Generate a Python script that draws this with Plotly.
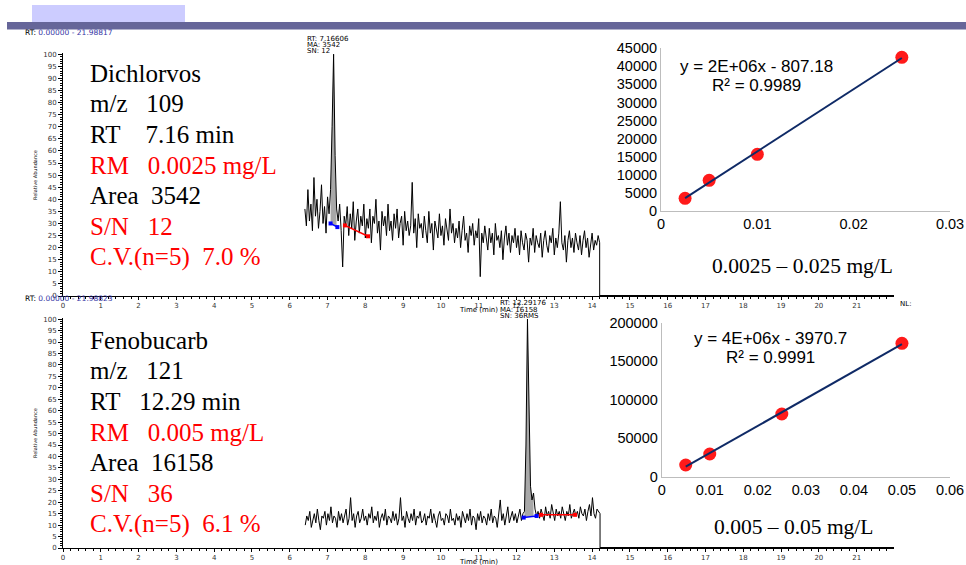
import numpy as np
import plotly.graph_objects as go

W, H = 966, 565

# ---------------- chromatogram data (relative abundance, %) ----------------
SCAN_STEP = 0.04  # min between scans

DICHLORVOS_RUN_END = 21.98817
DICHLORVOS_START = 6.40
DICHLORVOS_SIGNAL = [
    36, 29, 44, 31, 38, 27, 49, 33, 40, 28, 35, 46, 30, 37, 26, 41, 34, 44, 70, 100,
    58, 36, 31, 38, 27, 12, 33, 29, 37, 25, 34, 28, 39, 23, 31, 36, 26, 33, 29, 38,
    24, 32, 28, 36, 22, 33, 30, 40, 26, 31, 19, 35, 29, 33, 25, 38, 27, 31, 23, 34,
    28, 36, 24, 30, 33, 21, 35, 27, 31, 25, 29, 47, 26, 32, 20, 34, 28, 30, 24, 33,
    27, 22, 35, 26, 30, 19, 31, 28, 24, 34, 25, 29, 21, 32, 27, 23, 36, 26, 30, 22,
    28, 24, 31, 20, 27, 33, 23, 26, 18, 29, 25, 30, 21, 27, 24, 32, 8, 26, 22, 29,
    24, 19, 28, 22, 26, 17, 30, 23, 25, 20, 27, 15, 24, 29, 21, 26, 18, 25, 22, 28,
    20, 25, 17, 27, 22, 19, 26, 23, 14, 24, 21, 28, 18, 25, 22, 20, 26, 16, 23, 27,
    21, 18, 25, 22, 28, 17, 24, 20, 26, 39, 22, 19, 25, 14, 23, 27, 20, 24, 18, 26,
    22, 19, 25, 17, 23, 27, 20, 24, 16, 22, 26, 19, 23, 21, 25, 22,
]
DICHLORVOS_PEAK_WINDOW = (7.08, 7.24)
DICHLORVOS_BASE_T = [7.08, 7.26]
DICHLORVOS_BASE_Y = [30.0, 28.5]
DICHLORVOS_NOISE_T = [7.46, 8.07]
DICHLORVOS_NOISE_Y = [29.2, 24.7]

FENOBUCARB_RUN_END = 21.98823
FENOBUCARB_START = 6.41
FENOBUCARB_SIGNAL = [
    10, 14, 12, 16, 9, 13, 15, 11, 17, 12, 8, 14, 13, 16, 10, 15, 12, 18, 11, 14,
    13, 9, 16, 12, 15, 11, 14, 17, 10, 13, 22, 12, 15, 9, 14, 16, 11, 13, 17, 12,
    14, 10, 15, 13, 18, 11, 14, 12, 16, 9, 13, 15, 12, 17, 10, 14, 13, 11, 16, 12,
    15, 10, 13, 22, 12, 14, 9, 16, 13, 11, 15, 12, 17, 10, 14, 13, 16, 11, 12, 15,
    10, 14, 13, 17, 11, 15, 12, 9, 14, 16, 12, 13, 10, 15, 14, 11, 17, 12, 13, 10,
    15, 12, 14, 9, 16, 13, 11, 15, 12, 17, 10, 14, 13, 8, 15, 12, 16, 11, 14, 13,
    10, 15, 12, 17, 11, 14, 13, 9, 16, 21, 12, 15, 10, 14, 18, 11, 13, 16, 12, 15,
    11, 14, 17, 12, 15, 16, 45, 100, 52, 27, 21, 24, 17, 14, 16, 13, 17, 15, 12, 18,
    14, 16, 13, 19, 15, 12, 17, 14, 16, 13, 18, 15, 12, 16, 14, 19, 13, 15, 17, 14,
    16, 13, 18, 15, 14, 17, 12, 16, 19, 14, 22, 15, 13, 17, 16, 15,
]
FENOBUCARB_PEAK_WINDOW = (12.21, 12.45)
FENOBUCARB_BASE_T = [12.19, 12.53]
FENOBUCARB_BASE_Y = [13.3, 14.0]
FENOBUCARB_NOISE_T = [12.65, 13.55]
FENOBUCARB_NOISE_Y = [14.5, 14.5]

# ---------------- calibration data ----------------
DICHLORVOS_CONC = [0.0025, 0.005, 0.01, 0.025]   # mg/L
DICHLORVOS_AREA = [3440, 8420, 15630, 42500]
FENOBUCARB_CONC = [0.005, 0.01, 0.025, 0.05]
FENOBUCARB_AREA = [15200, 29500, 81400, 173200]

DICHLORVOS_EQ = ["y = 2E+06x - 807.18", "R² = 0.9989"]
FENOBUCARB_EQ = ["y = 4E+06x - 3970.7", "R² = 0.9991"]
DICHLORVOS_RANGE = "0.0025 – 0.025 mg/L"
FENOBUCARB_RANGE = "0.005 – 0.05 mg/L"

RED = "#ff0000"
BLACK = "#000000"
DICHLORVOS_INFO = [
    ("Dichlorvos", BLACK),
    ("m/z\u00a0\u00a0\u00a0109", BLACK),
    ("RT\u00a0\u00a0\u00a0\u00a07.16 min", BLACK),
    ("RM\u00a0\u00a0\u00a00.0025 mg/L", RED),
    ("Area\u00a0\u00a03542", BLACK),
    ("S/N\u00a0\u00a0\u00a012", RED),
    ("C.V.(n=5)\u00a0\u00a07.0 %", RED),
]
FENOBUCARB_INFO = [
    ("Fenobucarb", BLACK),
    ("m/z\u00a0\u00a0\u00a0121", BLACK),
    ("RT\u00a0\u00a0\u00a012.29 min", BLACK),
    ("RM\u00a0\u00a0\u00a00.005 mg/L", RED),
    ("Area\u00a0\u00a016158", BLACK),
    ("S/N\u00a0\u00a0\u00a036", RED),
    ("C.V.(n=5)\u00a0\u00a06.1 %", RED),
]


def px(x):
    return min(max(x / W, 0), 1)


def py(y):
    return min(max(1 - y / H, 0), 1)


fig = go.Figure()


def add_chromatogram(start, signal, run_end, window, base_t, base_y, noise_t, noise_y, xa, ya):
    t = start + SCAN_STEP * np.arange(len(signal))
    s = np.array(signal, dtype=float)
    # integrated peak area (grey) down to the blue baseline
    m = (t >= window[0] - 1e-9) & (t <= window[1] + 1e-9)
    pt, ps = t[m], s[m]
    bl = np.interp(pt, base_t, base_y)
    fig.add_trace(go.Scatter(
        x=np.concatenate([pt, pt[::-1]]), y=np.concatenate([ps, bl[::-1]]),
        fill="toself", fillcolor="#a8a8a8", line=dict(width=0), mode="lines",
        hoverinfo="skip", showlegend=False, xaxis=xa, yaxis=ya))
    # detector trace, dropping to zero after the acquisition window
    fig.add_trace(go.Scatter(
        x=np.concatenate([t, [t[-1]]]), y=np.concatenate([s, [0]]),
        mode="lines", line=dict(color="black", width=1),
        showlegend=False, xaxis=xa, yaxis=ya))
    fig.add_trace(go.Scatter(
        x=[t[-1], run_end], y=[0, 0], mode="lines", line=dict(color="black", width=2.2),
        showlegend=False, xaxis=xa, yaxis=ya))
    fig.add_trace(go.Scatter(
        x=base_t, y=base_y, mode="lines+markers",
        line=dict(color="#0000ff", width=1.5), marker=dict(symbol="square", size=4, color="#0000ff"),
        showlegend=False, xaxis=xa, yaxis=ya))
    fig.add_trace(go.Scatter(
        x=noise_t, y=noise_y, mode="lines+markers",
        line=dict(color="#ff0000", width=1.5), marker=dict(symbol="square", size=4, color="#ff0000"),
        showlegend=False, xaxis=xa, yaxis=ya))


add_chromatogram(DICHLORVOS_START, DICHLORVOS_SIGNAL, DICHLORVOS_RUN_END, DICHLORVOS_PEAK_WINDOW,
                 DICHLORVOS_BASE_T, DICHLORVOS_BASE_Y, DICHLORVOS_NOISE_T, DICHLORVOS_NOISE_Y, "x", "y")
add_chromatogram(FENOBUCARB_START, FENOBUCARB_SIGNAL, FENOBUCARB_RUN_END, FENOBUCARB_PEAK_WINDOW,
                 FENOBUCARB_BASE_T, FENOBUCARB_BASE_Y, FENOBUCARB_NOISE_T, FENOBUCARB_NOISE_Y, "x2", "y2")


def add_calibration(conc, area, xa, ya):
    fig.add_trace(go.Scatter(
        x=conc, y=area, mode="markers",
        marker=dict(color="#ff1a1a", size=13, line=dict(width=0)),
        showlegend=False, xaxis=xa, yaxis=ya))
    coef = np.polyfit(conc, area, 1)
    xs = np.array([min(conc), max(conc)])
    fig.add_trace(go.Scatter(
        x=xs, y=np.polyval(coef, xs), mode="lines",
        line=dict(color="#0f2a66", width=2),
        showlegend=False, xaxis=xa, yaxis=ya))


add_calibration(DICHLORVOS_CONC, DICHLORVOS_AREA, "x3", "y3")
add_calibration(FENOBUCARB_CONC, FENOBUCARB_AREA, "x4", "y4")

small = dict(family="DejaVu Sans", size=7, color="#333333")


def chrom_x(domain_y_anchor, run_end):
    return dict(domain=[px(63), px(894)], range=[0, run_end], anchor=domain_y_anchor,
                tickmode="linear", tick0=0, dtick=1, ticks="outside", ticklen=3,
                tickcolor="black", tickwidth=1, showline=True, linecolor="black", linewidth=1,
                showgrid=False, zeroline=False, tickfont=small, automargin=False,
                ticklabeloverflow="allow",
                minor=dict(dtick=0.2, ticks="outside", ticklen=2, tickcolor="black", showgrid=False))


def chrom_y(domain, xa):
    return dict(domain=domain, range=[0, 100.5], anchor=xa,
                tickmode="array", tickvals=list(range(0, 101, 5)), ticks="outside", ticklen=4,
                tickcolor="black", tickwidth=1, showline=True, linecolor="black", linewidth=1,
                showgrid=False, zeroline=False, tickfont=small, automargin=False,
                ticklabeloverflow="allow",
                minor=dict(dtick=1, ticks="outside", ticklen=2.5, tickcolor="black", showgrid=False))


cal_font = dict(family="Liberation Sans, Arial", size=14.5, color="black")


def cal_axis(domain, rng, dtick, anchor, fmt):
    return dict(domain=domain, range=rng, anchor=anchor, dtick=dtick, tick0=0,
                showline=True, linecolor="#bdbdbd", linewidth=1, ticks="",
                showgrid=False, zeroline=False, tickfont=cal_font, tickformat=fmt,
                automargin=False, ticklabeloverflow="allow")


fig.update_layout(
    width=W, height=H, margin=dict(l=0, r=0, t=0, b=0, autoexpand=False),
    paper_bgcolor="white", plot_bgcolor="rgba(0,0,0,0)",
    xaxis=chrom_x("y", DICHLORVOS_RUN_END),
    yaxis=chrom_y([py(296), py(53)], "x"),
    xaxis2=chrom_x("y2", FENOBUCARB_RUN_END),
    yaxis2=chrom_y([py(548), py(318)], "x2"),
    xaxis3=cal_axis([px(661), px(950)], [0, 0.03], 0.01, "y3", ""),
    yaxis3=cal_axis([py(210.7), py(48.3)], [0, 45000], 5000, "x3", "d"),
    xaxis4=cal_axis([px(661.7), px(950)], [0, 0.06], 0.01, "y4", ""),
    yaxis4=cal_axis([py(476.7), py(322.7)], [0, 200000], 50000, "x4", "d"),
    shapes=[
        dict(type="rect", xref="paper", yref="paper", x0=px(32), x1=px(185), y0=py(22), y1=py(5),
             fillcolor="#ccccff", line=dict(width=0), layer="below"),
        dict(type="rect", xref="paper", yref="paper", x0=px(7), x1=px(966), y0=py(29.5), y1=py(22),
             fillcolor="#666699", line=dict(width=0), layer="below"),
    ],
)

ann = []


def label(x, y, text, size, color="black", family="DejaVu Sans", xanchor="left", angle=0):
    ann.append(dict(x=px(x), y=py(y), xref="paper", yref="paper", text=text, showarrow=False,
                    xanchor=xanchor, yanchor="middle", textangle=angle,
                    font=dict(family=family, size=size, color=color)))


blue_txt = "<span style='color:#3535a5'>0.00000 - {}</span>"
label(23, 33, "RT: " + blue_txt.format("21.98817"), 7.5)
label(23, 298, "RT: " + blue_txt.format("21.98823"), 7.5)
for i, t in enumerate(["RT: 7.16606", "MA: 3542", "SN: 12"]):
    label(305, 39 + 6 * i, t, 7)
for i, t in enumerate(["RT: 12.29176", "MA: 16158", "SN: 36RMS"]):
    label(498, 303 + 6.5 * i, t, 7)
label(898, 304, "NL:", 7)
label(478, 310, "Time (min)", 7, xanchor="center")
label(478, 562, "Time (min)", 7, xanchor="center")
label(35, 175, "Relative Abundance", 5, xanchor="center", angle=-90)
label(35, 433, "Relative Abundance", 5, xanchor="center", angle=-90)

for i, (t, c) in enumerate(DICHLORVOS_INFO):
    label(88, 73 + 30.7 * i, t, 25, c, "Liberation Serif")
for i, (t, c) in enumerate(FENOBUCARB_INFO):
    label(88, 340 + 30.7 * i, t, 25, c, "Liberation Serif")

eq_font = "Liberation Sans, Arial"
label(756, 67, DICHLORVOS_EQ[0], 17, family=eq_font, xanchor="center")
label(756, 86, DICHLORVOS_EQ[1], 17, family=eq_font, xanchor="center")
label(770, 338, FENOBUCARB_EQ[0], 17, family=eq_font, xanchor="center")
label(770, 357, FENOBUCARB_EQ[1], 17, family=eq_font, xanchor="center")
label(802, 266, DICHLORVOS_RANGE, 21.5, family="Liberation Serif", xanchor="center")
label(793, 527, FENOBUCARB_RANGE, 21.5, family="Liberation Serif", xanchor="center")

fig.update_layout(annotations=ann)
fig.write_html("out.html")
